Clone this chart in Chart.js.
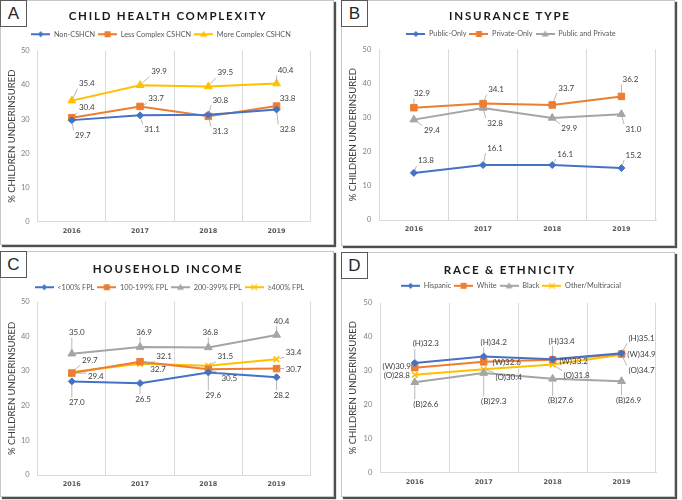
<!DOCTYPE html>
<html><head><meta charset="utf-8">
<script src="https://cdn.jsdelivr.net/npm/chart.js@4.4.1/dist/chart.umd.min.js"></script>
<style>
html,body{margin:0;padding:0;background:#fff;width:682px;height:500px;overflow:hidden;}
.panel{position:absolute;box-sizing:border-box;border:1px solid #c8c8c8;background:#fff;box-shadow:2px 2px 1px #4f4f4f;}
.panel canvas{position:absolute;left:0;top:0;}
.tag{position:absolute;left:-1px;top:-1px;width:27px;height:27px;box-sizing:border-box;border:1px solid #595959;background:#fff;font:17px "Liberation Sans",Arial,sans-serif;color:#262626;text-align:center;line-height:25px;}
</style></head><body>
<script>
// ---------------- DATA ----------------
const years = ['2016', '2017', '2018', '2019'];
const yAxisTitle = '% CHILDREN UNDERINSURED';

// A: child health complexity
const titleA = 'CHILD HEALTH COMPLEXITY';
const seriesA = ['Non-CSHCN', 'Less Complex CSHCN', 'More Complex CSHCN'];
const nonCSHCN = [29.7, 31.1, 31.3, 32.8];
const lessComplex = [30.4, 33.7, 30.8, 33.8];
const moreComplex = [35.4, 39.9, 39.5, 40.4];

// B: insurance type
const titleB = 'INSURANCE TYPE';
const seriesB = ['Public-Only', 'Private-Only', 'Public and Private'];
const publicOnly = [13.8, 16.1, 16.1, 15.2];
const privateOnly = [32.9, 34.1, 33.7, 36.2];
const publicPrivate = [29.4, 32.8, 29.9, 31.0];

// C: household income
const titleC = 'HOUSEHOLD INCOME';
const seriesC = ['<100% FPL', '100-199% FPL', '200-399% FPL', '\u2265400% FPL'];
const fplUnder100 = [27.0, 26.5, 29.6, 28.2];
const fpl100to199 = [29.4, 32.7, 30.5, 30.7];
const fpl200to399 = [35.0, 36.9, 36.8, 40.4];
const fpl400plus = [29.7, 32.1, 31.5, 33.4];

// D: race & ethnicity
const titleD = 'RACE & ETHNICITY';
const seriesD = ['Hispanic', 'White', 'Black', 'Other/Multiracial'];
const prefixD = ['(H)', '(W)', '(B)', '(O)'];
const hispanic = [32.3, 34.2, 33.4, 35.1];
const white = [30.9, 32.6, 33.2, 34.9];
const black = [26.6, 29.3, 27.6, 26.9];
const otherMulti = [28.8, 30.4, 31.8, 34.7];

// ---------------- LABEL PLACEMENT (px offsets of label centre from point) ----------------
const offA = [
  [[11, 15], [12, 14], [12, 17], [11, 20]],
  [[15, -10], [16, -8], [12, -16], [11, -8]],
  [[15, -17], [19, -14], [17, -14], [9, -13]]
];
const offB = [
  [[12, -12], [12, -17], [13, -11], [12, -13]],
  [[8, -14], [13, -14], [14, -17], [9, -17]],
  [[18, 11], [12, 15], [17, 11], [12, 15]]
];
const offC = [
  [[5, 21], [3, 16], [5, 23], [5, 18]],
  [[24, 3], [18, 8], [21, 9], [17, 1]],
  [[5, -21], [4, -15], [2, -15], [5, -14]],
  [[18, -12], [24, -7], [17, -9], [17, -7]]
];
const offD = [
  [[11, -19], [10, -14], [9, -18], [20, -15]],
  [[-18, -1], [23, 1], [21, 2], [20, 0]],
  [[11, 22], [10, 28], [8, 22], [7, 19]],
  [[-18, 1], [25, 8], [24, 11], [20, 16]]
];

// ---------------- STYLES ----------------
const BLUE = '#4472C4', ORANGE = '#ED7D31', GRAY = '#A5A5A5', YELLOW = '#FFC000';
const MK = {
  diamond: {style: 'rectRot', r: 3.5},
  square: {style: 'rect', r: 4.6},
  tri: {style: 'triangle', r: 4.5},
  cross: {style: 'crossRot', r: 4}
};

// panel geometry (panel-relative pixels)
const GEO = {
  A: {left: 0, top: 0, w: 334, h: 245, pl: 37.7, pr: 310.7, pt: 50.7, pb: 221.7, ty: 16.6, tx: 167, ly: 34.2, lx: 161},
  B: {left: 341, top: 0, w: 334, h: 246, pl: 38.3, pr: 315, pt: 49.3, pb: 220, ty: 16.2, tx: 168, ly: 34, lx: 170},
  C: {left: 0, top: 251, w: 334, h: 246, pl: 37.7, pr: 310.7, pt: 50.7, pb: 224, ty: 18, tx: 167, ly: 36.2, lx: 169.5},
  D: {left: 341, top: 252, w: 334, h: 245, pl: 39.3, pr: 315, pt: 50.7, pb: 220.7, ty: 18, tx: 168, ly: 33.8, lx: 170}
};
const ICON_W = 19;

function icon(color, m) {
  const c = document.createElement('canvas'); c.width = ICON_W; c.height = 10;
  const g = c.getContext('2d');
  g.strokeStyle = color; g.fillStyle = color; g.lineWidth = 2;
  g.beginPath(); g.moveTo(0, 5); g.lineTo(ICON_W, 5); g.stroke();
  const x = ICON_W / 2, y = 5;
  g.lineWidth = 1.2; g.beginPath();
  if (m.style === 'rectRot') { const r = 3; g.moveTo(x, y - r); g.lineTo(x + r, y); g.lineTo(x, y + r); g.lineTo(x - r, y); g.closePath(); g.fill(); }
  else if (m.style === 'rect') { const s = 3; g.rect(x - s, y - s, 2 * s, 2 * s); g.fill(); }
  else if (m.style === 'triangle') { const r = 3.5; g.moveTo(x, y - r); g.lineTo(x + r, y + r * 0.7); g.lineTo(x - r, y + r * 0.7); g.closePath(); g.fill(); }
  else { const s = 2.8; g.moveTo(x - s, y - s); g.lineTo(x + s, y + s); g.moveTo(x + s, y - s); g.lineTo(x - s, y + s); g.stroke(); }
  return c;
}

function ds(label, data, color, m) {
  return {
    label, data, borderColor: color, backgroundColor: color, borderWidth: 2,
    pointStyle: m.style, pointRadius: m.r, pointHoverRadius: m.r,
    pointBackgroundColor: color, pointBorderColor: color,
    pointBorderWidth: m.style === 'crossRot' ? 1.6 : 1, tension: 0, fill: false, _marker: m
  };
}

// wraps Chart.js title / legend boxes for fine positioning
const panelFix = {
  id: 'panelFix',
  afterInit(chart) {
    const L = chart.legend, T = chart.titleBlock;
    const opt = () => chart.options.plugins.panelFix;
    if (L && !L._pf) {
      const ofit = L.fit; L.fit = function () { ofit.call(this); if (this.options.display) this.height += opt().extra; };
      const od = L.draw; L.draw = function () { const c = this.ctx; c.save(); c.translate(opt().legendShift, 0); od.call(this); c.restore(); };
      L._pf = true;
    }
    if (T && !T._pf) {
      const od = T.draw; T.draw = function () {
        const c = this.ctx; c.save(); c.translate(opt().titleShift, 0);
        if ('letterSpacing' in c) c.letterSpacing = opt().spacing;
        od.call(this);
        if ('letterSpacing' in c) c.letterSpacing = '0px';
        c.restore();
      };
      T._pf = true;
    }
  }
};

// value labels with leader lines
const ptLabels = {
  id: 'ptLabels',
  afterDatasetsDraw(chart) {
    const o = chart.options.plugins.ptLabels;
    const ctx = chart.ctx;
    ctx.save();
    ctx.font = o.font;
    ctx.textAlign = 'center'; ctx.textBaseline = 'middle';
    chart.data.datasets.forEach((d, di) => {
      const meta = chart.getDatasetMeta(di);
      meta.data.forEach((p, i) => {
        const off = o.offsets[di][i];
        const txt = (o.prefix ? o.prefix[di] : '') + d.data[i].toFixed(1);
        const lx = p.x + off[0], ly = p.y + off[1];
        const w = ctx.measureText(txt).width;
        const x0 = lx - w / 2 - 1.5, x1 = lx + w / 2 + 1.5, y0 = ly - 5, y1 = ly + 5;
        const cx = Math.min(Math.max(p.x, x0), x1), cy = Math.min(Math.max(p.y, y0), y1);
        const dist = Math.hypot(cx - p.x, cy - p.y);
        if (dist > 6) {
          const ux = (cx - p.x) / dist, uy = (cy - p.y) / dist;
          ctx.strokeStyle = '#a6a6a6'; ctx.lineWidth = 0.8;
          ctx.beginPath(); ctx.moveTo(p.x + ux * 3, p.y + uy * 3); ctx.lineTo(cx, cy); ctx.stroke();
        }
        ctx.fillStyle = '#404040';
        ctx.fillText(txt, lx, ly);
      });
    });
    ctx.restore();
  }
};

function build(key, title, letter, datasets, offsets, prefix) {
  const g = GEO[key];
  const panel = document.createElement('div');
  panel.className = 'panel';
  Object.assign(panel.style, {left: g.left + 'px', top: g.top + 'px', width: g.w + 'px', height: g.h + 'px'});
  const cv = document.createElement('canvas');
  const W = g.w - 2, H = g.h - 2;
  cv.width = W; cv.height = H; cv.style.width = W + 'px'; cv.style.height = H + 'px';
  panel.appendChild(cv);
  const tag = document.createElement('div'); tag.className = 'tag'; tag.textContent = letter;
  panel.appendChild(tag);
  document.body.appendChild(panel);

  const pl = g.pl - 1, pr = g.pr - 1, pt = g.pt - 1, pb = g.pb - 1;
  const tfs = 11.5, tlh = tfs * 1.2, lfs = 7.3, lp = 3;
  const P = (g.ty - 1) - tlh / 2;
  const tb = Math.max(0, (g.ly - 1) - lfs / 2 - lp - P - tlh);
  const legendTop = P + tlh + tb;
  const extra = pt - (legendTop + lfs + lp + 10);
  const spacing = 1.8;

  new Chart(cv, {
    type: 'line',
    data: {labels: years, datasets},
    options: {
      responsive: false, animation: false, devicePixelRatio: 1,
      layout: {padding: {top: P, left: 0, right: W - pr, bottom: 0}},
      plugins: {
        title: {display: true, text: title, color: '#1a1a1a', font: {family: 'Lato', weight: 'bold', size: tfs}, padding: {top: 0, bottom: tb}},
        legend: {
          display: true, position: 'top',
          labels: {
            usePointStyle: true, pointStyleWidth: ICON_W, padding: lp, color: '#595959',
            font: {family: 'Lato', size: lfs},
            generateLabels: (ch) => ch.data.datasets.map((d, i) => ({
              text: d.label, pointStyle: icon(d.borderColor, d._marker), fillStyle: d.borderColor,
              strokeStyle: d.borderColor, lineWidth: 0, hidden: false, datasetIndex: i, fontColor: '#595959'
            }))
          }
        },
        tooltip: {enabled: false},
        panelFix: {extra, legendShift: (g.lx - 1) - pr / 2, titleShift: (g.tx - 1) - pr / 2 + spacing / 2, spacing: spacing + 'px'},
        ptLabels: {font: '8px Lato', offsets, prefix}
      },
      scales: {
        x: {
          offset: true,
          grid: {offset: true, color: '#d9d9d9', drawTicks: false, lineWidth: 1},
          border: {display: true, color: '#d9d9d9'},
          ticks: {color: '#595959', font: {family: 'DejaVu Sans', weight: 'bold', size: 6.5}, padding: 5.5},
          afterFit: (s) => { s.height = H - pb; }
        },
        y: {
          min: 0, max: 50,
          ticks: {stepSize: 10, color: '#7f7f7f', font: {family: 'Lato', size: 7.5}, padding: 8},
          grid: {display: false, drawTicks: false},
          border: {display: false},
          title: {display: true, text: yAxisTitle, color: '#404040', font: {family: 'Lato', size: 9.5}, padding: {top: 5, bottom: 0}},
          afterFit: (s) => { s.width = pl; }
        }
      }
    },
    plugins: [panelFix, ptLabels]
  });
}

build('A', titleA, 'A', [
  ds(seriesA[0], nonCSHCN, BLUE, MK.diamond),
  ds(seriesA[1], lessComplex, ORANGE, MK.square),
  ds(seriesA[2], moreComplex, YELLOW, MK.tri)
], offA, null);

build('B', titleB, 'B', [
  ds(seriesB[0], publicOnly, BLUE, MK.diamond),
  ds(seriesB[1], privateOnly, ORANGE, MK.square),
  ds(seriesB[2], publicPrivate, GRAY, MK.tri)
], offB, null);

build('C', titleC, 'C', [
  ds(seriesC[0], fplUnder100, BLUE, MK.diamond),
  ds(seriesC[1], fpl100to199, ORANGE, MK.square),
  ds(seriesC[2], fpl200to399, GRAY, MK.tri),
  ds(seriesC[3], fpl400plus, YELLOW, MK.cross)
], offC, null);

build('D', titleD, 'D', [
  ds(seriesD[0], hispanic, BLUE, MK.diamond),
  ds(seriesD[1], white, ORANGE, MK.square),
  ds(seriesD[2], black, GRAY, MK.tri),
  ds(seriesD[3], otherMulti, YELLOW, MK.cross)
], offD, prefixD);
</script>
</body></html>
